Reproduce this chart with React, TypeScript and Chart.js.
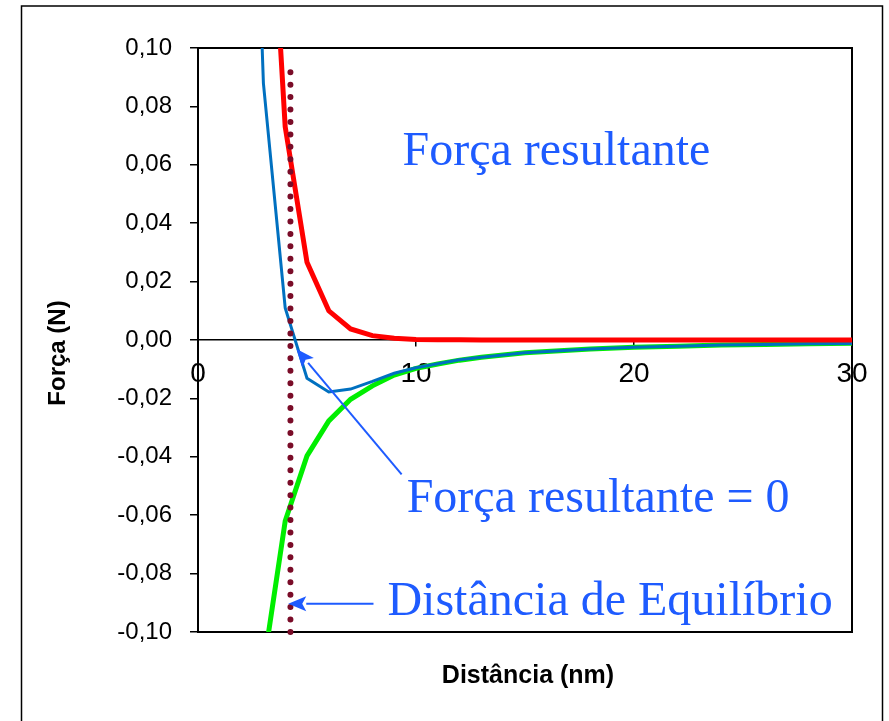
import React, { useEffect, useRef } from 'react';
import { Chart, registerables } from 'chart.js';

Chart.register(...registerables);

// ---- Data ----
const X_TICK_VALUES = [0, 10, 20, 30];
const Y_TICK_VALUES = [-0.1, -0.08, -0.06, -0.04, -0.02, 0, 0.02, 0.04, 0.06, 0.08, 0.1];

const DIST = [2, 3, 4, 5, 6, 7, 8, 9, 10, 11, 12, 13, 14, 15, 16, 18, 20, 22, 24, 26, 28, 30];
const REPULSIVE = [0.55, 0.2, 0.073, 0.0266, 0.01, 0.0038, 0.0015, 0.0006, 0.0002, 0.0001, 0.0001, 0, 0, 0, 0, 0, 0, 0, 0, 0, 0, 0];
const ATTRACTIVE = [-0.25, -0.112, -0.062, -0.0397, -0.0277, -0.0203, -0.0157, -0.012, -0.0097, -0.0082, -0.0069, -0.0059, -0.0051, -0.0044, -0.0039, -0.0031, -0.0025, -0.0021, -0.0017, -0.0015, -0.0013, -0.0011];
const RESULTANT = [0.3, 0.088, 0.011, -0.0131, -0.0178, -0.0168, -0.0142, -0.0114, -0.0095, -0.0081, -0.0068, -0.0059, -0.0051, -0.0044, -0.0039, -0.0031, -0.0025, -0.0021, -0.0017, -0.0015, -0.0013, -0.0012];

const EQ_DIST = [4.24, 4.24];
const EQ_FORCE = [-0.1, 0.092];

const X_TITLE = 'Distância (nm)';
const Y_TITLE = 'Força (N)';

const LABELS = [
  { text: 'Força resultante', x: 9.38, y: 0.0598 },
  { text: 'Força resultante = 0', x: 9.57, y: -0.0588 },
  { text: 'Distância de Equilíbrio', x: 8.69, y: -0.0943 },
];
const ARROWS = [
  { fromX: 9.34, fromY: -0.046, toX: 4.52, toY: -0.0031 },
  { fromX: 8.05, fromY: -0.0903, toX: 4.14, toY: -0.0903 },
];

const toXY = (xs: number[], ys: number[]) => xs.map((x, i) => ({ x, y: ys[i] }));
const fmtY = (v: number) => (Math.abs(v) < 1e-9 ? 0 : v).toFixed(2).replace('.', ',');

const SANS = '"Liberation Sans", Arial, sans-serif';
const SERIF = '"Liberation Serif", "Times New Roman", serif';
const ANNOT_BLUE = '#1E5BFF';

const overlay = {
  id: 'overlay',
  beforeDatasetsDraw(chart: any) {
    const { ctx, chartArea: a } = chart;
    ctx.save();
    ctx.strokeStyle = '#000';
    ctx.lineWidth = 2;
    ctx.strokeRect(a.left, a.top, a.right - a.left, a.bottom - a.top);
    ctx.restore();
  },
  afterDraw(chart: any) {
    const { ctx, chartArea: a } = chart;
    const xs = chart.scales.x;
    const ys = chart.scales.y;
    ctx.save();
    // outer frame
    ctx.strokeStyle = '#000';
    ctx.lineWidth = 1.5;
    ctx.strokeRect(21.5, 6, 861, 740);

    // axis titles
    ctx.fillStyle = '#000';
    ctx.font = `bold 25px ${SANS}`;
    ctx.textAlign = 'center';
    ctx.textBaseline = 'alphabetic';
    ctx.fillText(X_TITLE, (a.left + a.right) / 2 + 3, a.bottom + 51);

    ctx.save();
    ctx.translate(65, (a.top + a.bottom) / 2 + 13);
    ctx.rotate(-Math.PI / 2);
    ctx.font = `bold 24px ${SANS}`;
    ctx.fillText(Y_TITLE, 0, 0);
    ctx.restore();

    // annotation texts
    ctx.fillStyle = ANNOT_BLUE;
    ctx.font = `48px ${SERIF}`;
    ctx.textAlign = 'left';
    LABELS.forEach((l) => {
      ctx.fillText(l.text, xs.getPixelForValue(l.x), ys.getPixelForValue(l.y));
    });

    // arrows
    ctx.strokeStyle = ANNOT_BLUE;
    ctx.lineWidth = 2;
    ARROWS.forEach((ar) => {
      const x1 = xs.getPixelForValue(ar.fromX);
      const y1 = ys.getPixelForValue(ar.fromY);
      const x2 = xs.getPixelForValue(ar.toX);
      const y2 = ys.getPixelForValue(ar.toY);
      const ang = Math.atan2(y2 - y1, x2 - x1);
      const hl = 18;
      const hw = 7.5;
      const bx = x2 - hl * Math.cos(ang);
      const by = y2 - hl * Math.sin(ang);
      ctx.beginPath();
      ctx.moveTo(x1, y1);
      ctx.lineTo(bx, by);
      ctx.stroke();
      ctx.beginPath();
      ctx.moveTo(x2, y2);
      ctx.lineTo(bx + hw * Math.sin(ang), by - hw * Math.cos(ang));
      ctx.lineTo(bx + 4 * Math.cos(ang), by + 4 * Math.sin(ang));
      ctx.lineTo(bx - hw * Math.sin(ang), by + hw * Math.cos(ang));
      ctx.closePath();
      ctx.fillStyle = ANNOT_BLUE;
      ctx.fill();
    });
    ctx.restore();
  },
};

export default function App() {
  const ref = useRef<HTMLCanvasElement | null>(null);
  useEffect(() => {
    if (!ref.current) return;
    const chart = new Chart(ref.current, {
      type: 'line',
      data: {
        datasets: [
          {
            label: 'Equilíbrio',
            data: toXY(EQ_DIST, EQ_FORCE),
            borderColor: '#7A0C28',
            borderWidth: 6,
            borderDash: [0, 12.44],
            borderCapStyle: 'round',
            pointRadius: 0,
            order: 0,
            clip: 5,
          } as any,
          {
            label: 'Repulsiva',
            data: toXY(DIST, REPULSIVE),
            borderColor: '#FF0000',
            borderWidth: 5,
            pointRadius: 0,
            order: 1,
            clip: 0,
          },
          {
            label: 'Resultante',
            data: toXY(DIST, RESULTANT),
            borderColor: '#0070C0',
            borderWidth: 3,
            pointRadius: 0,
            order: 2,
            clip: 0,
          },
          {
            label: 'Atrativa',
            data: toXY(DIST, ATTRACTIVE),
            borderColor: '#00EE00',
            borderWidth: 5,
            pointRadius: 0,
            order: 3,
            clip: 0,
          },
        ],
      },
      options: {
        responsive: false,
        animation: false,
        layout: { padding: { left: 0, top: 48, right: 37, bottom: 89 } },
        plugins: {
          legend: { display: false },
          tooltip: { enabled: false },
        },
        elements: { point: { radius: 0 }, line: { tension: 0 } },
        scales: {
          x: {
            type: 'linear',
            min: 0,
            max: 30,
            position: { y: 0 } as any,
            afterBuildTicks: (s: any) => {
              s.ticks = X_TICK_VALUES.map((v) => ({ value: v }));
            },
            grid: { drawOnChartArea: false, drawTicks: true, tickLength: 6, color: '#000', lineWidth: 1.5 },
            border: { display: true, color: '#000', width: 1.5 },
            ticks: {
              font: { family: SANS, size: 28 },
              color: '#000',
              padding: 11,
              maxRotation: 0,
              autoSkip: false,
              callback: (v: any) => String(v),
            },
          },
          y: {
            type: 'linear',
            min: -0.1,
            max: 0.1,
            position: 'left',
            afterBuildTicks: (s: any) => {
              s.ticks = Y_TICK_VALUES.map((v) => ({ value: v }));
            },
            afterFit: (s: any) => {
              s.width = 198;
            },
            grid: { drawOnChartArea: false, drawTicks: true, tickLength: 8, color: '#000', lineWidth: 1.5 },
            border: { display: true, color: '#000', width: 2 },
            ticks: {
              font: { family: SANS, size: 24 },
              color: '#000',
              padding: 18,
              autoSkip: false,
              callback: (v: any) => fmtY(Number(v)),
            },
          },
        },
      },
      plugins: [overlay],
    });
    return () => chart.destroy();
  }, []);
  return (
    <div style={{ position: 'fixed', left: 0, top: 0, width: 889, height: 721, background: '#fff' }}>
      <canvas ref={ref} width={889} height={721} style={{ display: 'block' }} />
    </div>
  );
}
